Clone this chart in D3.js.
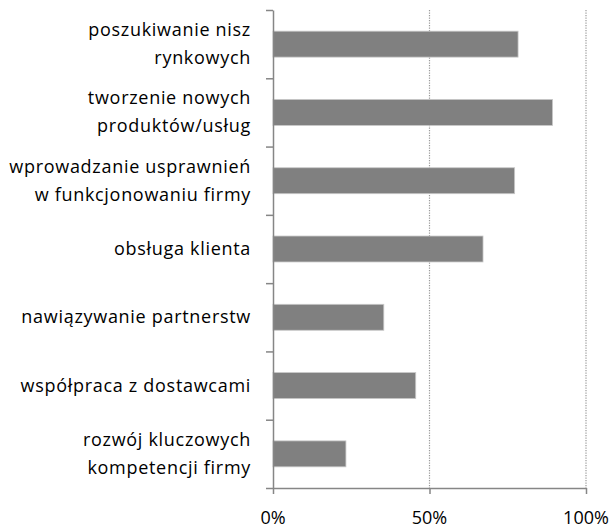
<!doctype html>
<html>
<head>
<meta charset="utf-8">
<title>Bar chart</title>
<script src="https://cdn.jsdelivr.net/npm/d3@7"></script>
<style>
body { margin: 0; background: #fff; }
.label { font-family: 'Open Sans', sans-serif; font-size: 18px; fill: #000; }
.cat { letter-spacing: 0.7px; }
.axis path, .axis line { stroke: #868686; stroke-width: 1.5; fill: none; }
</style>
</head>
<body>
<script>
// categories (each entry = lines of the label)
var categories = [
  ["poszukiwanie nisz", "rynkowych"],
  ["tworzenie nowych", "produktów/usług"],
  ["wprowadzanie usprawnień", "w funkcjonowaniu firmy"],
  ["obsługa klienta"],
  ["nawiązywanie partnerstw"],
  ["współpraca z dostawcami"],
  ["rozwój kluczowych", "kompetencji firmy"]
];
var values = [0.783, 0.893, 0.772, 0.671, 0.354, 0.456, 0.233];
var ticks = [0, 0.5, 1];
var tickLabels = ["0%", "50%", "100%"];

var W = 613, H = 528;
var pLeft = 273, pRight = 586, pTop = 10, pBottom = 488;

var svg = d3.select("body").append("svg")
  .attr("width", W)
  .attr("height", H);

var x = d3.scaleLinear().domain([0, 1]).range([pLeft, pRight]);
var y = d3.scaleBand().domain(d3.range(categories.length)).range([pTop, pBottom])
  .paddingInner(0.62).paddingOuter(0.31);

// dotted gridlines
svg.append("g").selectAll("line")
  .data(ticks.slice(1))
  .join("line")
  .attr("x1", d => x(d)).attr("x2", d => x(d))
  .attr("y1", pTop).attr("y2", pBottom)
  .attr("stroke", "#999")
  .attr("stroke-width", 1.2)
  .attr("stroke-dasharray", "1.2,1.3");

// bars
svg.append("g").selectAll("rect")
  .data(values)
  .join("rect")
  .attr("x", x(0))
  .attr("y", (d, i) => y(i))
  .attr("width", d => x(d) - x(0))
  .attr("height", y.bandwidth())
  .attr("fill", "#808080")
  .attr("stroke", "#c8c8c8")
  .attr("stroke-width", 0.8);

// y axis: line with ticks at band boundaries
var yb = d3.scaleLinear().domain([0, categories.length]).range([pTop, pBottom]);
svg.append("g")
  .attr("class", "axis")
  .attr("transform", "translate(" + x(0) + ",0)")
  .call(d3.axisLeft(yb).tickValues(d3.range(categories.length + 1)).tickSize(7).tickSizeOuter(0).tickFormat(""));

// x axis
svg.append("g")
  .attr("class", "axis")
  .attr("transform", "translate(0," + pBottom + ")")
  .call(d3.axisBottom(x).tickValues(ticks).tickSize(6).tickSizeOuter(0).tickFormat(""));

svg.append("g").selectAll("text")
  .data(ticks)
  .join("text")
  .attr("class", "label")
  .attr("x", d => x(d))
  .attr("y", 524)
  .attr("text-anchor", "middle")
  .text((d, i) => tickLabels[i]);

// category labels
var lineH = 28;
var lab = svg.append("g").selectAll("text")
  .data(categories)
  .join("text")
  .attr("class", "label cat")
  .attr("text-anchor", "end")
  .attr("x", 251)
  .attr("y", (d, i) => y(i) + y.bandwidth() / 2 - (d.length - 1) * lineH / 2 + 6);

lab.selectAll("tspan")
  .data(d => d)
  .join("tspan")
  .attr("x", 251)
  .attr("dy", (d, i) => i === 0 ? 0 : lineH)
  .text(d => d);
</script>
</body>
</html>
